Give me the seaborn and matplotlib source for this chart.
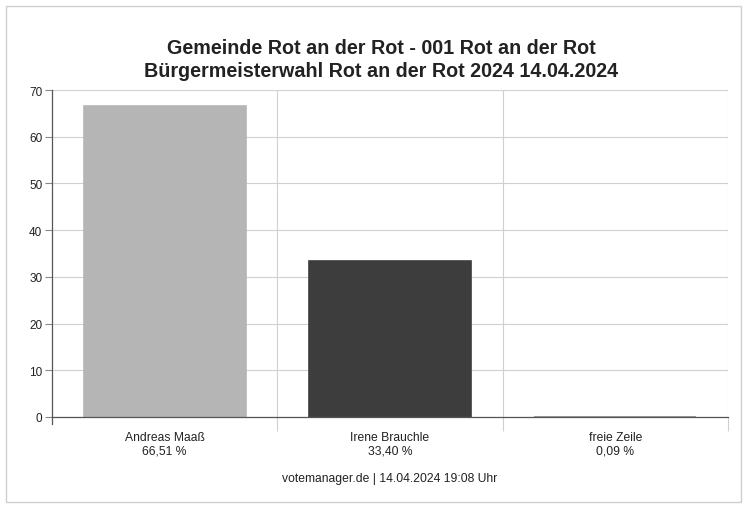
import matplotlib
matplotlib.use("Agg")
import matplotlib.pyplot as plt
import seaborn as sns
import pandas as pd
from matplotlib.patches import Rectangle

candidates = ["Andreas Maaß", "Irene Brauchle", "freie Zeile"]
shares = [66.51, 33.40, 0.09]
share_labels = ["66,51 %", "33,40 %", "0,09 %"]
bar_colors = ["#b5b5b5", "#3d3d3d", "#8a8a8a"]
y_ticks = [0, 10, 20, 30, 40, 50, 60, 70]

df = pd.DataFrame({"kandidat": candidates, "anteil": shares})

sns.set_theme(style="white")
plt.rcParams["font.family"] = ["Liberation Sans", "DejaVu Sans"]

fig = plt.figure(figsize=(7.47, 5.06), dpi=100)
ax = fig.add_axes([0.0696, 0.174, 0.905, 0.646])

sns.barplot(data=df, x="kandidat", y="anteil", hue="kandidat", palette=bar_colors,
            legend=False, width=0.72, saturation=1, ax=ax)
# give each bar an edge in its own colour so the tiny bar stays visible
for patch, col in zip(ax.patches, bar_colors):
    patch.set_edgecolor(col)
    patch.set_linewidth(1.2)

ax.set_xlim(-0.5, 2.5)
ax.set_ylim(0, 70)
ax.set_yticks(y_ticks)
ax.set_yticklabels([str(t) for t in y_ticks], fontsize=8.5, color="#222222")
ax.set_xticks(range(len(candidates)))
ax.set_xticklabels([c + "\n" + s for c, s in zip(candidates, share_labels)],
                   fontsize=8.7, color="#222222", linespacing=1.15)
ax.tick_params(axis="x", which="major", length=0, pad=10)
ax.tick_params(axis="y", which="major", length=5, width=0.8, color="#888888", pad=2, left=True)

# category separators extending below the axis
ax.set_xticks([0.5, 1.5, 2.5], minor=True)
ax.tick_params(axis="x", which="minor", length=10, width=0.8, color="#d0d0d0", bottom=True)
ax.grid(axis="x", which="minor", color="#d0d0d0", linewidth=0.8)
ax.grid(axis="y", which="major", color="#d0d0d0", linewidth=0.8)
ax.set_axisbelow(True)

for side in ["top", "right"]:
    ax.spines[side].set_visible(False)
ax.spines["left"].set_color("#555555")
ax.spines["left"].set_linewidth(0.9)
ax.spines["left"].set_bounds(-1.5, 70)
ax.spines["bottom"].set_color("#555555")
ax.spines["bottom"].set_linewidth(0.9)
ax.set_xlabel("")
ax.set_ylabel("")

fig.text(0.51, 0.905, "Gemeinde Rot an der Rot - 001 Rot an der Rot",
         ha="center", va="center", fontsize=14.2, fontweight="bold", color="#222222")
fig.text(0.51, 0.858, "Bürgermeisterwahl Rot an der Rot 2024 14.04.2024",
         ha="center", va="center", fontsize=14.2, fontweight="bold", color="#222222")
fig.text(0.522, 0.054, "votemanager.de | 14.04.2024 19:08 Uhr",
         ha="center", va="center", fontsize=8.7, color="#222222")

fig.patches.append(Rectangle((0.008, 0.006), 0.984, 0.98, transform=fig.transFigure,
                             fill=False, edgecolor="#cfcfcf", linewidth=1))

fig.savefig("out.png", dpi=100)
